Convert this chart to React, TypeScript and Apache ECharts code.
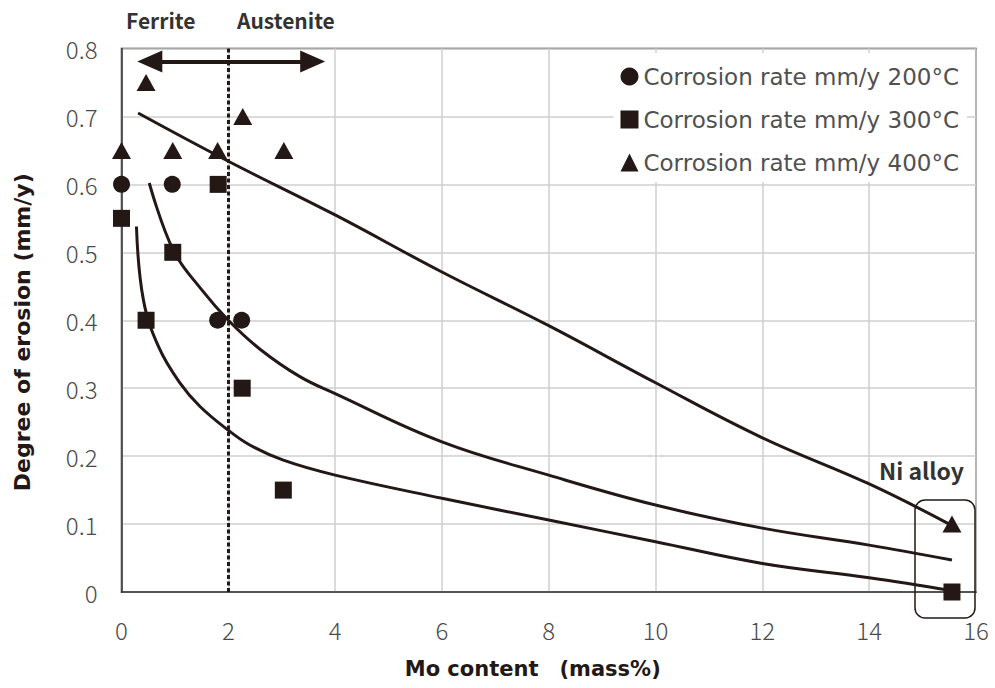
import React, { useEffect, useRef } from 'react';
import * as echarts from 'echarts';

// Measured points (Mo content in mass%, corrosion rate in mm/y)
const mo200 = [0, 0.95, 1.8, 2.25];
const rate200 = [0.6, 0.6, 0.4, 0.4];
const mo300 = [0, 0.46, 0.96, 1.81, 2.26, 3.03, 15.55];
const rate300 = [0.55, 0.4, 0.5, 0.6, 0.3, 0.15, 0];
const mo400 = [0, 0.46, 0.96, 1.8, 2.27, 3.04, 15.55];
const rate400 = [0.65, 0.75, 0.65, 0.65, 0.7, 0.65, 0.1];

// Trend curves
const trendMo200 = [0.52, 0.97, 1.5, 2.0, 2.6, 3.34, 4, 6, 8, 10, 12, 14, 15.55];
const trendRate200 = [0.602, 0.503, 0.445, 0.4, 0.357, 0.317, 0.292, 0.221, 0.172, 0.128, 0.094, 0.069, 0.047];
const trendMo300 = [0.28, 0.41, 0.7, 1.1, 1.47, 2.0, 2.41, 3.03, 4, 6, 8, 10, 12, 14, 15.55];
const trendRate300 = [0.538, 0.43, 0.36, 0.307, 0.273, 0.238, 0.216, 0.194, 0.172, 0.138, 0.106, 0.074, 0.042, 0.021, 0.002];
const trendMo400 = [0.31, 2, 4, 6, 8, 10, 12, 14, 15.5];
const trendRate400 = [0.705, 0.634, 0.555, 0.471, 0.392, 0.308, 0.227, 0.159, 0.1];

const seriesNames = ['Corrosion rate mm/y 200°C', 'Corrosion rate mm/y 300°C', 'Corrosion rate mm/y 400°C'];
const boundaryMo = 2;
const arrowFrom = 0.53;
const arrowTo = 3.58;
const arrowLevel = 0.781;

const INK = '#231815';
const zip = (xs: number[], ys: number[]) => xs.map((x, i) => [x, ys[i]]);

export default function App() {
  const ref = useRef<HTMLDivElement>(null);
  useEffect(() => {
    const chart = echarts.init(ref.current!, null, { renderer: 'svg' });
    const tickFont = { fontFamily: '"Noto Sans CJK JP", "DejaVu Sans", sans-serif', fontWeight: 300 as any, color: '#4a4a4a', fontSize: 24 };
    const trendBase = {
      type: 'line' as const,
      smooth: 0.4,
      showSymbol: false,
      symbol: 'none',
      silent: true,
      lineStyle: { color: INK, width: 3 },
      z: 2,
    };
    chart.setOption({
      animation: false,
      backgroundColor: '#fff',
      grid: { left: 121.5, top: 48.5, right: 19, bottom: 96, show: true, borderColor: '#333', borderWidth: 1.5, containLabel: false },
      xAxis: {
        type: 'value', min: 0, max: 16, interval: 2,
        name: 'Mo content　(mass%)', nameLocation: 'middle', nameGap: 66,
        nameTextStyle: { fontFamily: '"DejaVu Sans", sans-serif', fontWeight: 'bold', fontSize: 21, color: INK, padding: [0, 32, 0, 0] },
        axisLine: { show: true, lineStyle: { color: '#333', width: 1.5 } },
        axisTick: { show: false },
        axisLabel: { ...tickFont, margin: 25 },
        splitLine: { show: true, lineStyle: { color: '#cfcfcf', width: 1.5 } },
      },
      yAxis: {
        type: 'value', min: 0, max: 0.8, interval: 0.1,
        name: 'Degree of erosion (mm/y)', nameLocation: 'middle', nameGap: 88,
        nameTextStyle: { fontFamily: '"DejaVu Sans", sans-serif', fontWeight: 'bold', fontSize: 22, color: INK, padding: [0, 24, 0, 0] },
        axisLine: { show: true, lineStyle: { color: '#333', width: 1.5 } },
        axisTick: { show: false },
        axisLabel: { ...tickFont, margin: 24, formatter: (v: number) => (v === 0 ? '0' : v.toFixed(1)) },
        splitLine: { show: true, lineStyle: { color: '#cfcfcf', width: 1.5 } },
      },
      legend: {
        data: seriesNames,
        orient: 'vertical',
        right: 28, top: 53,
        backgroundColor: '#fff',
        padding: [12, 8, 8, 7],
        itemGap: 20,
        itemWidth: 18, itemHeight: 18,
        textStyle: { fontFamily: '"DejaVu Sans", sans-serif', color: '#505050', fontSize: 23 },
        selectedMode: false,
      },
      series: [
        {
          ...trendBase, name: 'trend400', data: zip(trendMo400, trendRate400),
          markLine: {
            silent: true, animation: false,
            symbol: ['triangle', 'triangle'], symbolSize: [22, 25],
            label: { show: false },
            lineStyle: { color: INK, width: 4, type: 'solid' },
            data: [[{ coord: [arrowFrom, arrowLevel] }, { coord: [arrowTo, arrowLevel] }]],
          },
        },
        {
          ...trendBase, name: 'trend200', data: zip(trendMo200, trendRate200),
        },
        {
          ...trendBase, name: 'trend300', data: zip(trendMo300, trendRate300),
          markLine: {
            silent: true, animation: false,
            symbol: ['none', 'none'],
            label: { show: false },
            lineStyle: { color: INK, width: 3, type: [4, 2.5] },
            data: [{ xAxis: boundaryMo }],
          },
        },
        { type: 'scatter', name: seriesNames[0], data: zip(mo200, rate200), symbol: 'circle', symbolSize: 17, itemStyle: { color: INK, opacity: 1 }, z: 5 },
        { type: 'scatter', name: seriesNames[1], data: zip(mo300, rate300), symbol: 'rect', symbolSize: 17, itemStyle: { color: INK, opacity: 1 }, z: 5 },
        { type: 'scatter', name: seriesNames[2], data: zip(mo400, rate400), symbol: 'triangle', symbolSize: [19, 17], itemStyle: { color: INK, opacity: 1 }, z: 5 },
      ],
      graphic: [
        { type: 'text', left: 126, top: 9, style: { text: 'Ferrite', font: 'bold 21px "Noto Sans CJK JP", sans-serif', fill: '#333' } },
        { type: 'text', left: 237, top: 9, style: { text: 'Austenite', font: 'bold 21px "Noto Sans CJK JP", sans-serif', fill: '#333' } },
        { type: 'text', left: 879, top: 458, style: { text: 'Ni alloy', font: 'bold 23px "Noto Sans CJK JP", sans-serif', fill: '#333' } },
        { type: 'rect', shape: { x: 915, y: 500, width: 60, height: 118, r: 10 }, style: { fill: 'none', stroke: INK, lineWidth: 1.5 }, z: 100 },
      ],
    });
    return () => chart.dispose();
  }, []);
  return <div ref={ref} style={{ position: 'absolute', left: 0, top: 0, width: 995, height: 688 }} />;
}
